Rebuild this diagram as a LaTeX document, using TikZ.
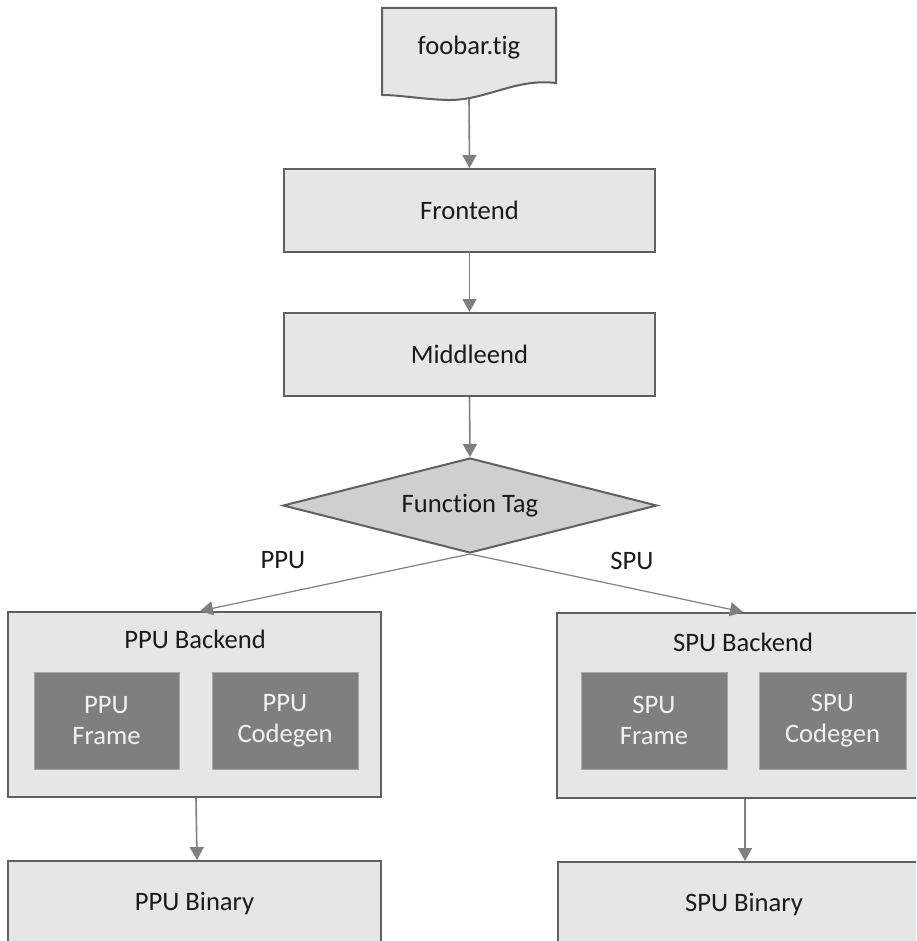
\documentclass[tikz,border=0pt]{standalone}
\usepackage{fontspec}
\setmainfont{Carlito}[Ligatures={NoCommon,NoRequired,NoContextual}]
\usetikzlibrary{shapes.geometric,arrows.meta}
\definecolor{boxfill}{HTML}{E6E6E6}
\definecolor{boxline}{HTML}{606060}
\definecolor{decfill}{HTML}{D0CFCF}
\definecolor{innerfill}{HTML}{7F7F7F}
\definecolor{innerline}{HTML}{A6A6A6}
\definecolor{arrowgray}{HTML}{7F7F7F}
\definecolor{txt}{HTML}{1A1A1A}
\tikzset{
  every node/.style={font=\fontsize{13.3}{15.5}\selectfont, text=txt},
  stagebox/.style={draw=boxline, fill=boxfill, line width=1pt, inner sep=0pt},
  backbox/.style={draw=boxline, fill=boxfill, line width=1pt, inner sep=0pt},
  innerbox/.style={draw=innerline, fill=innerfill, line width=0.5pt, inner sep=0pt,
    text=white!95!black, align=center},
  decision/.style={diamond, draw=boxline, fill=decfill, line width=1pt, inner sep=0pt, shape aspect=4},
  flow/.style={draw=arrowgray, line width=0.8pt, -{Triangle[width=7pt,length=6.5pt]}},
  branch/.style={draw=arrowgray, line width=0.6pt, -{Triangle[width=7pt,length=6.5pt]}},
}
\begin{document}
\begin{tikzpicture}[x=0.5pt,y=-0.5pt]
\useasboundingbox (0,0) rectangle (916,941);
\clip (0,0) rectangle (916,941);

% source document with wavy lower edge
\draw[boxline, fill=boxfill, line width=1pt]
  (382,8) -- (556,8) -- (556,83)
  .. controls (515,78) and (485,101) .. (447,100)
  .. controls (420,99) and (400,95) .. (382,95) -- cycle;
\node (doc) at (469,48) {foobar.tig};
\coordinate (docbot) at (469,99);

\node[stagebox, minimum width=185.5pt, minimum height=41.5pt] (front) at (469.5,210.5) {Frontend};
\node[stagebox, minimum width=185.5pt, minimum height=41.5pt] (middle) at (469.5,354.5) {Middleend};
\node[decision, minimum width=187pt, minimum height=47.5pt] (tag) at (470,505.5) {Function Tag};

% PPU branch
\node[backbox, minimum width=186.5pt, minimum height=92.5pt] (ppub) at (194.5,704.5) {};
\node (ppubt) at (195,639) {PPU Backend};
\node[innerbox, minimum width=72.5pt, minimum height=48.5pt] (ppuf) at (106.5,720.5) {PPU\\Frame};
\node[innerbox, minimum width=73pt, minimum height=48.5pt] (ppuc) at (285,720.5) {PPU\\Codegen};
\node[stagebox, minimum width=186.5pt, minimum height=42pt] (ppubin) at (194.5,903) {PPU Binary};

% SPU branch
\node[backbox, minimum width=186.5pt, minimum height=92.5pt] (spub) at (743.5,705.5) {};
\node (spubt) at (743,642) {SPU Backend};
\node[innerbox, minimum width=73pt, minimum height=48.5pt] (spuf) at (654,720.5) {SPU\\Frame};
\node[innerbox, minimum width=73.5pt, minimum height=48.5pt] (spuc) at (832.5,720.5) {SPU\\Codegen};
\node[stagebox, minimum width=186.5pt, minimum height=42pt] (spubin) at (744,904) {SPU Binary};

% branch labels
\node (lppu) at (283,560) {PPU};
\node (lspu) at (632,561) {SPU};

% connectors
\draw[flow] (docbot) -- (front.north);
\draw[flow] (front.south) -- (middle.north);
\draw[flow] (middle.south) -- (tag.north);
\draw[branch] (tag.south) -- (ppub.north -| 200,0);
\draw[branch] (tag.south) -- (spub.north -| 743,0);
\draw[flow] (ppub.south -| 196,0) -- (ppubin.north -| 197,0);
\draw[flow] (spub.south -| 745,0) -- (spubin.north -| 745,0);
\end{tikzpicture}
\end{document}
